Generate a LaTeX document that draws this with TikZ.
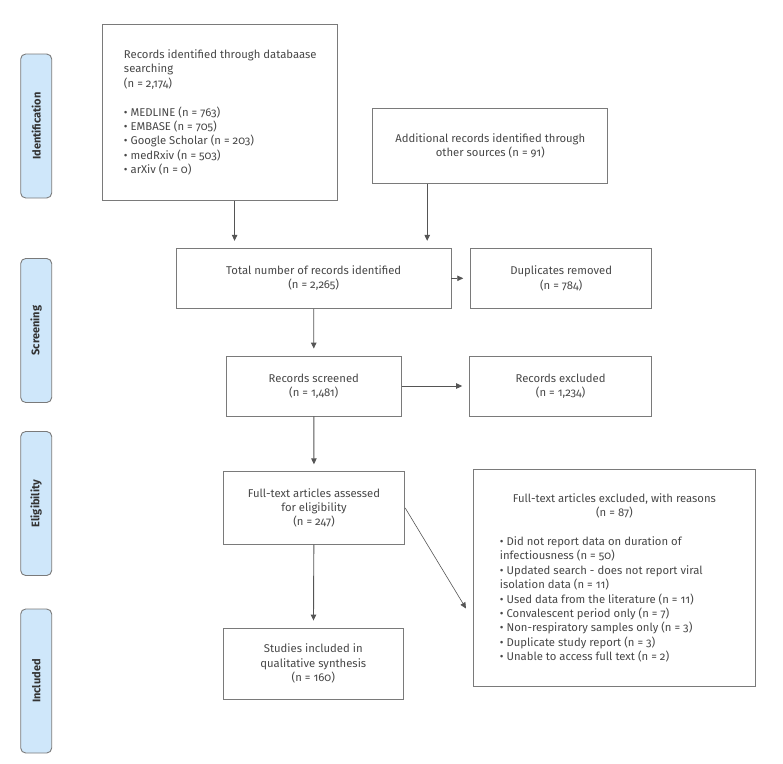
\documentclass[tikz,border=0pt]{standalone}
\usepackage{fontspec}
\setmainfont{Fira Sans}[Numbers=OldStyle]
\usetikzlibrary{positioning, arrows.meta}

\definecolor{boxline}{HTML}{7A7A7A}
\definecolor{boxtext}{HTML}{474747}
\definecolor{tabfill}{HTML}{CFE7FA}
\definecolor{tabtext}{HTML}{333333}
\definecolor{arrowgray}{HTML}{555555}

\begin{document}
\begin{tikzpicture}[x=1pt, y=-1pt,
    box/.style={rectangle, draw=boxline, line width=0.9pt, text=boxtext, align=center, inner sep=0pt, font=\fontsize{11.3}{14.4}\selectfont},
    stage/.style={rectangle, rounded corners=5pt, draw=boxline, line width=0.9pt, fill=tabfill, text=tabtext, rotate=90, minimum width=144pt, minimum height=31pt, inner sep=0pt, font=\fontsize{11}{12}\selectfont\bfseries},
    arr/.style={-{Triangle[length=6pt, width=5.5pt]}, draw=arrowgray, line width=0.9pt, shorten >=7pt}]
    \useasboundingbox (0,0) rectangle (783,763);

    % Stages
    \node (identification) [stage] at (36.2,126) {Identification};
    \node (screening) [stage] at (36.2,330.5) {Screening};
    \node (eligibility) [stage] at (36.2,503.5) {Eligibility};
    \node (inclusion) [stage] at (36.2,681) {Included};

    % Nodes
    \node (database) [box, align=left, minimum width=235pt, minimum height=176pt] at (220.3,112.5) {Records identified through databaase\\searching\\(n = 2,174)\\[14.4pt]%
        • MEDLINE (n = 763)\\• EMBASE (n = 705)\\• Google Scholar (n = 203)\\• medRxiv (n = 503)\\• arXiv (n = 0)};
    \node (additional) [box, minimum width=235pt, minimum height=75pt] at (490.3,145.8) {Additional records identified through\\other sources (n = 91)};
    \node (total) [box, minimum width=274.5pt, minimum height=60pt] at (313.7,278.3) {Total number of records identified\\(n = 2,265)};
    \node (duplicates) [box, minimum width=181pt, minimum height=60pt] at (561.2,278.3) {Duplicates removed\\(n = 784)};
    \node (screened) [box, minimum width=175.5pt, minimum height=60pt] at (313.8,386) {Records screened\\(n = 1,481)};
    \node (excluded) [box, minimum width=182pt, minimum height=60pt] at (560.6,386) {Records excluded\\(n = 1,234)};
    \node (fulltext) [box, minimum width=181.4pt, minimum height=72.3pt] at (314,507.9) {Full-text articles assessed\\for eligibility\\(n = 247)};
    \node (reasons) [box, minimum width=282.8pt, minimum height=217.4pt] at (614.4,578) {Full-text articles excluded, with reasons\\(n = 87)\\[14.4pt]%
        \parbox[t]{229pt}{\raggedright • Did not report data on duration of\\infectiousness (n = 50)\\• Updated search - does not report viral\\isolation data (n = 11)\\• Used data from the literature (n = 11)\\• Convalescent period only (n = 7)\\• Non-respiratory samples only (n = 3)\\• Duplicate study report (n = 3)\\• Unable to access full text (n = 2)}};
    \node (studies) [box, minimum width=180.5pt, minimum height=71pt] at (313.3,663.5) {Studies included in\\qualitative synthesis\\(n = 160)};

    % Arrows
    \coordinate (dbdrop) at (234.6,0);
    \coordinate (adddrop) at (427.2,0);
    \coordinate (reasonsin) at (466,608.5);
    \draw[arr] (database.south -| dbdrop) -- (total.north -| dbdrop);
    \draw[arr] (additional.south -| adddrop) -- (total.north -| adddrop);
    \draw[arr] (total) -- (duplicates);
    \draw[arr] (total) -- (screened);
    \draw[arr] (screened) -- (excluded);
    \draw[arr] (screened) -- (fulltext);
    \draw[arr] (fulltext) -- (studies);
    \draw[arr, line width=0.6pt, shorten >=0pt] (fulltext.east) -- (reasonsin);
\end{tikzpicture}
\end{document}
